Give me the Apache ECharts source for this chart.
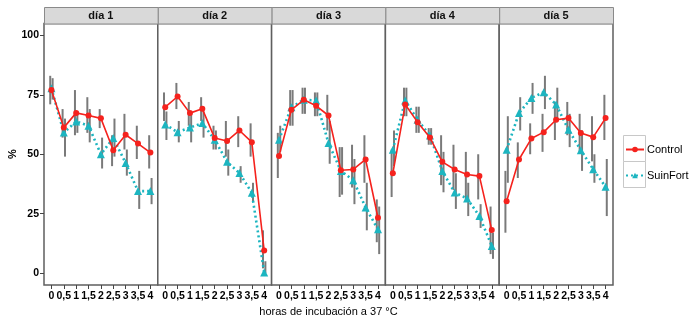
<!DOCTYPE html>
<html>
<head>
<meta charset="utf-8">
<script src="https://cdn.jsdelivr.net/npm/echarts@6/dist/echarts.min.js"></script>
<style>
  html, body { margin: 0; padding: 0; background: #fff; }
  #chart { width: 700px; height: 324px; }
</style>
</head>
<body>
<div id="chart"></div>
<script>
// Incubation time (hours) on the x axis, one facet per day
const hours = [0, 0.5, 1, 1.5, 2, 2.5, 3, 3.5, 4];
const days = ['día 1', 'día 2', 'día 3', 'día 4', 'día 5'];
const yTicks = [0, 25, 50, 75, 100];

// Control: means and error-bar limits per day
const controlMean = [
  [77.0, 61.2, 67.4, 66.3, 65.1, 51.7, 58.2, 54.5, 50.7],
  [69.8, 74.3, 67.3, 69.1, 56.8, 55.6, 60.0, 55.1, 9.5],
  [49.3, 68.7, 72.9, 70.4, 66.3, 43.3, 43.6, 47.8, 23.3],
  [42.0, 70.9, 63.5, 57.0, 46.8, 43.6, 41.5, 40.8, 18.1],
  [30.2, 47.8, 56.6, 59.3, 64.5, 65.2, 58.9, 57.2, 65.2]
];
const controlLow = [
  [71, 57, 58, 59, 61, 45, 52, 48, 44],
  [64, 69, 62, 64, 52, 49, 53, 49, 2],
  [40, 62, 67, 66, 60, 32, 36, 38, 13],
  [32, 66, 59, 54, 37, 35, 31, 31, 8],
  [17, 40, 50, 51, 56, 58, 51, 47, 56]
];
const controlHigh = [
  [83, 69, 77, 74, 69, 58, 67, 62, 58],
  [76, 80, 72, 74, 62, 64, 66, 63, 18],
  [59, 77, 78, 76, 75, 53, 54, 58, 31],
  [52, 78, 70, 61, 58, 54, 51, 50, 28],
  [43, 55, 63, 67, 72, 72, 67, 66, 75]
];

// SuinFort: means and error-bar limits per day
const suinMean = [
  [77.8, 59.1, 63.8, 62.0, 50.0, 56.8, 46.3, 34.5, 34.5],
  [62.5, 59.3, 61.2, 63.1, 56.1, 46.8, 42.1, 33.8, 0.3],
  [56.1, 69.8, 72.9, 72.6, 54.7, 43.0, 39.1, 27.6, 18.4],
  [51.9, 72.6, 64.5, 57.9, 43.0, 33.9, 31.4, 24.0, 11.4],
  [51.9, 67.3, 73.7, 76.1, 70.9, 60.3, 51.7, 43.7, 36.3]
];
const suinLow = [
  [73, 49, 59, 55, 44, 49, 41, 27, 29],
  [56, 55, 55, 57, 52, 41, 38, 30, 0],
  [51, 62, 67, 66, 46, 33, 29, 18, 8],
  [45, 66, 59, 54, 34, 27, 24, 19, 6],
  [38, 60, 67, 69, 64, 53, 43, 38, 24]
];
const suinHigh = [
  [82, 65, 68, 69, 57, 65, 52, 43, 40],
  [68, 64, 67, 68, 60, 52, 45, 38, 5],
  [62, 77, 78, 76, 64, 53, 48, 38, 28],
  [60, 78, 70, 61, 51, 42, 38, 29, 17],
  [66, 74, 80, 83, 78, 67, 60, 50, 48]
];

const RED = '#f5221d';
const TEAL = '#1cb5c0';
const BORDER = '#5f5f5f';
const FONT = 'Liberation Sans, Arial, sans-serif';

const panelLeft = 44, panelWidth = 113.8, panelTop = 23.5, panelBottomY = 285;
const stripTop = 7;

const grids = [], xAxes = [], yAxes = [], series = [], graphics = [];

function errorBars(idx, low, high, dx) {
  return {
    type: 'custom',
    xAxisIndex: idx,
    yAxisIndex: idx,
    silent: true,
    z: 1,
    data: hours.map((h, i) => [h, low[i], high[i]]),
    renderItem(params, api) {
      const a = api.coord([api.value(0), api.value(1)]);
      const b = api.coord([api.value(0), api.value(2)]);
      return {
        type: 'line',
        shape: { x1: a[0] + dx, y1: a[1], x2: b[0] + dx, y2: b[1] },
        style: { stroke: '#7a7a7a', lineWidth: 2 }
      };
    }
  };
}

days.forEach((day, d) => {
  const left = panelLeft + d * panelWidth;
  grids.push({
    left: left, top: panelTop, width: panelWidth, height: panelBottomY - panelTop,
    show: true, borderColor: BORDER, borderWidth: 1.5, backgroundColor: '#fff'
  });
  xAxes.push({
    type: 'value', gridIndex: d, min: -0.3, max: 4.3, position: 'bottom',
    splitLine: { show: false },
    axisLine: { show: false, onZero: false },
    axisTick: { show: true, length: 4, lineStyle: { color: '#444', width: 1 }, customValues: hours },
    axisLabel: {
      customValues: hours, margin: 6,
      color: '#000', fontFamily: FONT, fontSize: 10.5, fontWeight: 'bold',
      formatter: v => String(v).replace('.', ',')
    }
  });
  yAxes.push({
    type: 'value', gridIndex: d, min: -5, max: 105, position: 'left',
    splitLine: { show: false },
    axisLine: { show: false, onZero: false },
    axisTick: { show: d === 0, length: 4, lineStyle: { color: '#444', width: 1 }, customValues: yTicks },
    axisLabel: {
      show: d === 0, customValues: yTicks, margin: 5,
      color: '#000', fontFamily: FONT, fontSize: 10.5, fontWeight: 'bold'
    }
  });

  series.push(errorBars(d, controlLow[d], controlHigh[d], -1.2));
  series.push(errorBars(d, suinLow[d], suinHigh[d], 1.2));

  series.push({
    name: 'Control', type: 'line', xAxisIndex: d, yAxisIndex: d, z: 3,
    data: hours.map((h, i) => [h, controlMean[d][i]]),
    symbol: 'circle', symbolSize: 6,
    lineStyle: { color: RED, width: 1.6 },
    itemStyle: { color: RED },
    emphasis: { disabled: true }, animation: false
  });
  series.push({
    name: 'SuinFort', type: 'line', xAxisIndex: d, yAxisIndex: d, z: 2,
    data: hours.map((h, i) => [h, suinMean[d][i]]),
    symbol: 'triangle', symbolSize: 8,
    lineStyle: { color: TEAL, width: 2.6, type: [2, 3] },
    itemStyle: { color: TEAL },
    emphasis: { disabled: true }, animation: false
  });

  // facet strip
  graphics.push({
    type: 'rect', left: left, top: stripTop,
    shape: { width: panelWidth, height: panelTop - stripTop },
    style: { fill: '#d9d9d9', stroke: '#8a8a8a', lineWidth: 1 }, z: 10
  });
  graphics.push({
    type: 'text', x: left + panelWidth / 2, y: (stripTop + panelTop) / 2 + 0.5,
    style: {
      text: day, fill: '#111', font: 'bold 11px ' + FONT,
      textAlign: 'center', textVerticalAlign: 'middle'
    }, z: 11
  });
});

// axis titles
graphics.push({
  type: 'text', x: panelLeft + 5 * panelWidth / 2, y: 312,
  style: {
    text: 'horas de incubación a 37 °C', fill: '#000', font: '11px ' + FONT,
    textAlign: 'center', textVerticalAlign: 'middle'
  }
});
graphics.push({
  type: 'text', x: 13, y: 154, rotation: Math.PI / 2,
  style: {
    text: '%', fill: '#000', font: 'bold 11px ' + FONT,
    textAlign: 'center', textVerticalAlign: 'middle'
  }
});

// legend key boxes
graphics.push({
  type: 'rect', left: 623, top: 135, shape: { width: 22, height: 26 },
  style: { fill: '#fff', stroke: '#c8c8c8', lineWidth: 1 }, z: -1
});
graphics.push({
  type: 'rect', left: 623, top: 161, shape: { width: 22, height: 26 },
  style: { fill: '#fff', stroke: '#c8c8c8', lineWidth: 1 }, z: -1
});

const chart = echarts.init(document.getElementById('chart'), null, { renderer: 'canvas' });
chart.setOption({
  animation: false,
  backgroundColor: '#fff',
  grid: grids,
  xAxis: xAxes,
  yAxis: yAxes,
  series: series,
  graphic: graphics,
  legend: {
    data: ['Control', 'SuinFort'],
    orient: 'vertical',
    left: 625, top: 143, padding: 0,
    itemWidth: 18, itemHeight: 7, itemGap: 13,
    selectedMode: false,
    textStyle: { fontFamily: FONT, fontSize: 11, color: '#000', lineHeight: 13, padding: [0, 0, 0, -2] }
  }
});
</script>
</body>
</html>
